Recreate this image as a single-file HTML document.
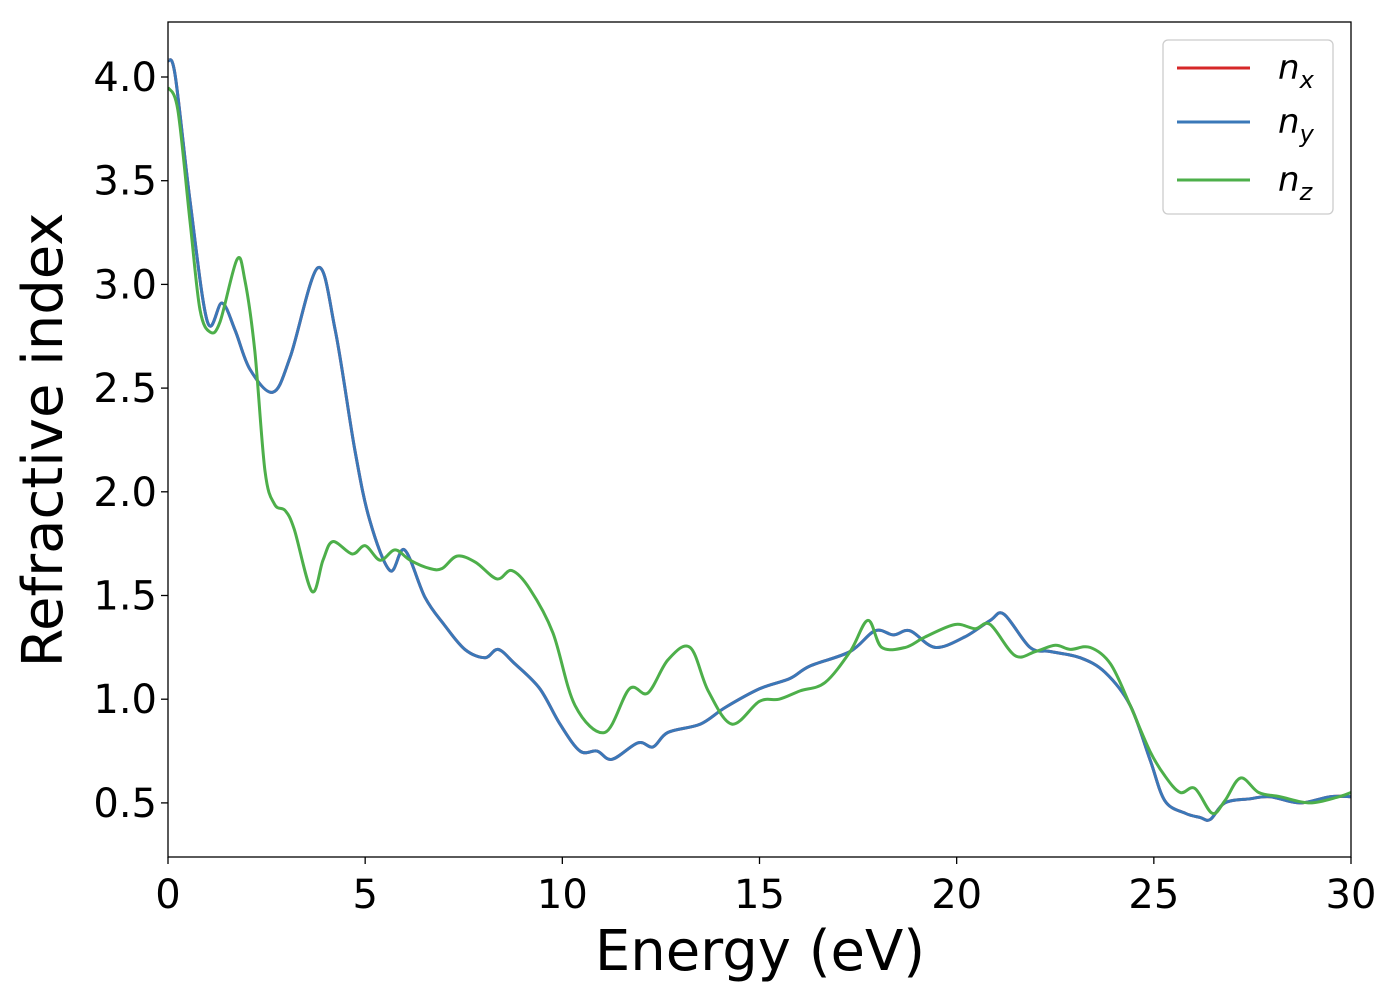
<!DOCTYPE html>
<html><head><meta charset="utf-8"><style>
body{margin:0;background:#fff}
svg text{font-family:"DejaVu Sans","Liberation Sans",sans-serif}
</style></head><body>
<svg id="chart" width="1400" height="1000" xmlns="http://www.w3.org/2000/svg">
<g id="plot"></g>
</svg>
<script>
const energyXY=[0,0.18,0.56,1.0,1.37,1.7,2.08,2.66,3.1,3.8,4.24,4.74,5.12,5.63,6.0,6.52,7.0,7.53,8.04,8.37,8.8,9.43,9.94,10.45,10.88,11.26,11.92,12.3,12.68,13.5,14.13,15.0,15.77,16.28,17.3,17.93,18.4,18.82,19.45,20.2,20.85,21.2,21.86,22.37,23.13,23.76,24.4,24.9,25.28,25.8,26.17,26.43,26.8,27.44,27.95,28.7,29.47,30];
const nxValues=[4.08,4.01,3.4,2.82,2.91,2.78,2.59,2.48,2.65,3.08,2.78,2.2,1.86,1.62,1.72,1.49,1.36,1.24,1.2,1.24,1.17,1.05,0.88,0.75,0.75,0.71,0.79,0.77,0.84,0.88,0.96,1.05,1.1,1.16,1.23,1.33,1.31,1.33,1.25,1.3,1.38,1.41,1.25,1.23,1.2,1.13,0.97,0.71,0.51,0.45,0.43,0.42,0.5,0.52,0.53,0.5,0.53,0.53];
const nyValues=nxValues.slice();
const energyZ=[0,0.25,0.56,0.81,1.07,1.32,1.75,1.95,2.2,2.46,2.7,2.97,3.2,3.65,3.93,4.18,4.67,5.0,5.38,5.76,6.14,6.64,6.95,7.33,7.8,8.34,8.72,9.18,9.76,10.32,11.08,11.7,12.17,12.68,13.24,13.7,14.3,15.0,15.5,16.03,16.66,17.3,17.75,18.1,18.7,19.2,19.96,20.47,20.85,21.48,22.0,22.5,22.88,23.38,23.9,24.4,24.9,25.28,25.67,26.04,26.48,26.8,27.2,27.66,28.2,28.96,29.7,30];
const nzValues=[3.95,3.84,3.3,2.88,2.77,2.82,3.12,3.02,2.68,2.1,1.94,1.91,1.82,1.52,1.67,1.76,1.7,1.74,1.67,1.72,1.67,1.63,1.63,1.69,1.66,1.58,1.62,1.53,1.32,0.97,0.84,1.05,1.03,1.19,1.25,1.04,0.88,0.99,1.0,1.04,1.08,1.23,1.38,1.25,1.25,1.3,1.36,1.34,1.36,1.21,1.23,1.26,1.24,1.25,1.17,0.97,0.75,0.63,0.55,0.57,0.45,0.51,0.62,0.55,0.53,0.5,0.53,0.55];
const xTicks=[0,5,10,15,20,25,30];
const yTicks=[0.5,1.0,1.5,2.0,2.5,3.0,3.5,4.0];

const NS="http://www.w3.org/2000/svg";
const L=168,R=1351,T=22,B=857;
const xs=v=>L+(v/30)*(R-L);
const ys=v=>77+(4.0-v)*207.4;
const g=document.getElementById('plot');
function mk(tag,attrs,parent){const e=document.createElementNS(NS,tag);for(const k in attrs)e.setAttribute(k,attrs[k]);(parent||g).appendChild(e);return e;}
function smooth(xa,ya){const p=xa.map((x,i)=>[xs(x),ys(ya[i])]);let d='M'+p[0][0]+','+p[0][1];
for(let i=0;i<p.length-1;i++){const p0=p[Math.max(0,i-1)],p1=p[i],p2=p[i+1],p3=p[Math.min(p.length-1,i+2)];
const c1=[p1[0]+(p2[0]-p0[0])/6,p1[1]+(p2[1]-p0[1])/6],c2=[p2[0]-(p3[0]-p1[0])/6,p2[1]-(p3[1]-p1[1])/6];
d+=' C'+c1[0].toFixed(1)+','+c1[1].toFixed(1)+' '+c2[0].toFixed(1)+','+c2[1].toFixed(1)+' '+p2[0].toFixed(1)+','+p2[1].toFixed(1);}return d;}
const clip=mk('clipPath',{id:'clp'});mk('rect',{x:L,y:T,width:R-L,height:B-T},clip);
const series=[[energyXY,nxValues,'#d62728','nx-line'],[energyXY,nyValues,'#3a78b8','ny-line'],[energyZ,nzValues,'#4daf4a','nz-line']];
series.forEach(s=>{const e=mk('path',{d:smooth(s[0],s[1]),fill:'none',stroke:s[2],'stroke-width':3,'clip-path':'url(#clp)'});

});
const frame=mk('rect',{x:L,y:T,width:R-L,height:B-T,fill:'none',stroke:'#000','stroke-width':1.3});


xTicks.forEach(t=>{mk('line',{x1:xs(t),x2:xs(t),y1:B,y2:B+7,stroke:'#000','stroke-width':1.3});
const tx=mk('text',{x:xs(t),y:908,'font-size':40,'text-anchor':'middle'});tx.textContent=t;

});
yTicks.forEach(t=>{mk('line',{x1:L-7,x2:L,y1:ys(t),y2:ys(t),stroke:'#000','stroke-width':1.3});
const tx=mk('text',{x:157,y:ys(t)+14,'font-size':40,'text-anchor':'end'});tx.textContent=t.toFixed(1);

});
const xt=mk('text',{x:760,y:970,'font-size':56,'text-anchor':'middle'});xt.textContent='Energy (eV)';


const yt=mk('text',{x:62,y:440,'font-size':56,'text-anchor':'middle',transform:'rotate(-90 62 440)'});yt.textContent='Refractive index';


const lg=mk('g',{});


mk('rect',{x:1163,y:40,width:170,height:174,rx:5,fill:'#fff',stroke:'#ccc','stroke-width':1.3},lg);
[['x','#d62728',68],['y','#3a78b8',122],['z','#4daf4a',180]].forEach(e=>{
mk('line',{x1:1177,x2:1250,y1:e[2],y2:e[2],stroke:e[1],'stroke-width':3},lg);
const t=mk('text',{x:1278,y:e[2]+11,'font-size':34,'font-style':'italic'},lg);


t.innerHTML='n<tspan font-size="24" dy="9">'+e[0]+'</tspan>';});
</script>
</body></html>
